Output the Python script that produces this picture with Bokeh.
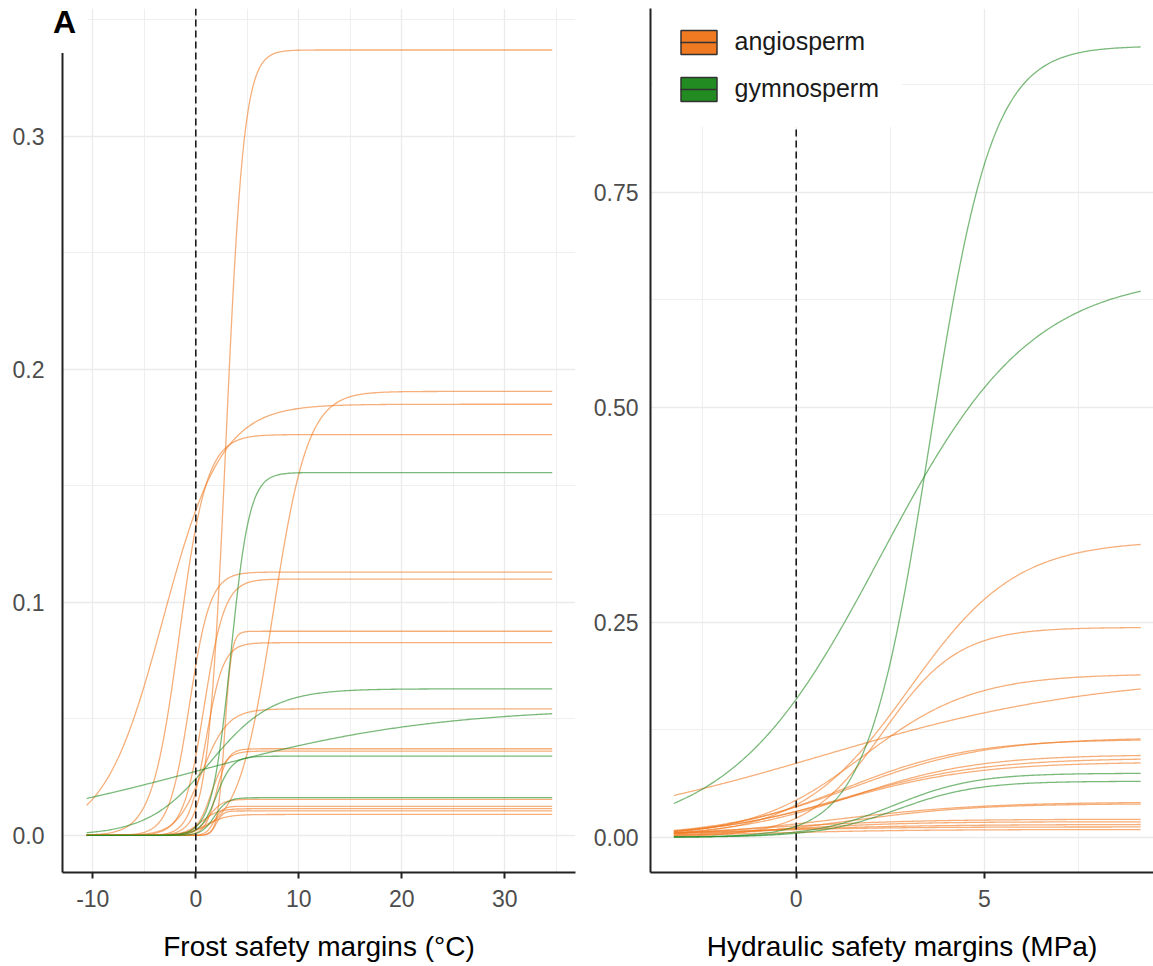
import numpy as np
from bokeh.plotting import figure
from bokeh.models import FixedTicker, Legend, LegendItem, Span, Div
from bokeh.layouts import row, column
from bokeh.embed import file_html
from bokeh.resources import INLINE

# ---------------- data (fitted logistic curves) ----------------
# Frost safety margins panel: plateau, midpoint (°C), slope, group
frost_plateau = [0.337, 0.1905, 0.185, 0.172, 0.113, 0.110, 0.0876, 0.0827, 0.0543,
                 0.0372, 0.0362, 0.0155, 0.0125, 0.0115, 0.0105, 0.0090,
                 0.1557, 0.0629, 0.055, 0.034, 0.0162]
frost_mid = [2.92, 7.5, -3.2, -1.6, -0.6, 0.8, 2.8, 1.0, 0.6,
             2.0, 1.5, 1.2, 1.8, 0.5, 2.0, 1.0,
             3.4, 1.4, 0.0, 2.0, 1.8]
frost_slope = [1.15, 0.59, 0.35, 0.75, 1.0, 1.0, 3.0, 1.2, 0.8,
               1.8, 1.4, 1.5, 2.5, 1.2, 3.0, 1.0,
               1.1, 0.33, 0.085, 1.3, 1.6]
frost_group = ["angiosperm"] * 16 + ["gymnosperm"] * 5
frost_span = [-10.6, 34.6]

# Hydraulic safety margins panel: plateau, midpoint (MPa), slope, group
hyd_plateau = [0.345, 0.244, 0.19, 0.19, 0.116, 0.114, 0.096, 0.092, 0.0875,
               0.041, 0.039, 0.021, 0.018, 0.015, 0.012, 0.009,
               0.92, 0.655, 0.0744, 0.0651]
hyd_mid = [3.0, 2.3, 1.8, 0.7, 1.5, 1.3, 1.5, 1.3, 1.2,
           1.0, 1.5, -1.0, -0.5, -1.5, -2.0, -1.0,
           3.55, 2.25, 2.6, 2.7]
hyd_slope = [0.7, 1.0, 0.68, 0.27, 0.55, 0.6, 0.6, 0.55, 0.55,
             0.5, 0.6, 0.5, 0.6, 0.4, 0.5, 0.5,
             1.2, 0.5, 0.93, 0.95]
hyd_group = ["angiosperm"] * 16 + ["gymnosperm"] * 4
hyd_span = [-3.25, 9.15]

groups = ["angiosperm", "gymnosperm"]
group_colors = {"angiosperm": "#F07A22", "gymnosperm": "#228B22"}

frost_ticks = [-10, 0, 10, 20, 30]
frost_xlabels = ["-10", "0", "10", "20", "30"]
frost_minor = [-5, 5, 15, 25, 35]
frost_yticks = [0.0, 0.1, 0.2, 0.3]
frost_ylabels = ["0.0", "0.1", "0.2", "0.3"]
frost_yminor = [0.05, 0.15, 0.25, 0.35]

hyd_ticks = [0, 5]
hyd_xlabels = ["0", "5"]
hyd_minor = [-2.5, 2.5, 7.5]
hyd_yticks = [0.0, 0.25, 0.5, 0.75]
hyd_ylabels = ["0.00", "0.25", "0.50", "0.75"]
hyd_yminor = [0.125, 0.375, 0.625, 0.875]

FONT = "Liberation Sans"


def curves(plateau, mid, slope, group, span):
    x = np.linspace(span[0], span[1], 300)
    xs, ys, cs = [], [], []
    for L, m, k, g in zip(plateau, mid, slope, group):
        xs.append(x)
        ys.append(L / (1.0 + np.exp(-k * (x - m))))
        cs.append(group_colors[g])
    return xs, ys, cs


def style(p, xt, xlab, xm, yt, ylab, ym, xlabel, ystandoff):
    p.outline_line_color = None
    p.background_fill_color = "white"
    p.border_fill_color = "white"
    p.xaxis.ticker = FixedTicker(ticks=xt, minor_ticks=xm)
    p.yaxis.ticker = FixedTicker(ticks=yt, minor_ticks=ym)
    p.xaxis.major_label_overrides = {v: s for v, s in zip(xt, xlab)}
    p.yaxis.major_label_overrides = {v: s for v, s in zip(yt, ylab)}
    for ax in (p.xaxis[0], p.yaxis[0]):
        ax.axis_line_color = "#222222"
        ax.axis_line_width = 2
        ax.minor_tick_line_color = None
        ax.minor_tick_out = 0
        ax.minor_tick_in = 0
        ax.major_label_text_font = FONT
        ax.major_label_text_font_size = "23px"
        ax.major_label_text_color = "#4D4D4D"
    p.xaxis.major_tick_line_color = "#222222"
    p.xaxis.major_tick_line_width = 2
    p.xaxis.major_tick_out = 6
    p.xaxis.major_tick_in = 0
    p.xaxis.major_label_standoff = 11
    p.yaxis.major_tick_line_color = None
    p.yaxis.major_tick_out = 0
    p.yaxis.major_tick_in = 0
    p.yaxis.major_label_standoff = ystandoff
    p.xaxis.axis_label = xlabel
    p.xaxis.axis_label_text_font = FONT
    p.xaxis.axis_label_text_font_size = "28px"
    p.xaxis.axis_label_text_font_style = "normal"
    p.xaxis.axis_label_text_color = "#000000"
    p.xaxis.axis_label_standoff = 21
    for g in (p.xgrid[0], p.ygrid[0]):
        g.grid_line_color = "#EBEBEB"
        g.grid_line_width = 1.3
        g.minor_grid_line_color = "#EFEFEF"
        g.minor_grid_line_width = 1.1


def zero_line(p):
    p.add_layout(Span(location=0, dimension="height", line_color="#1A1A1A",
                      line_width=1.6, line_dash="7 4", level="glyph"))


# ---------------- left panel ----------------
p1 = figure(width=590, height=966, x_range=(-12.94, 36.86), y_range=(-0.0159, 0.3548),
            output_backend="svg", toolbar_location=None,
            min_border_left=62, min_border_right=15, min_border_top=8, min_border_bottom=94)
style(p1, frost_ticks, frost_xlabels, frost_minor, frost_yticks, frost_ylabels,
      frost_yminor, "Frost safety margins (°C)", 18)
fx, fy, fc = curves(frost_plateau, frost_mid, frost_slope, frost_group, frost_span)
order = sorted(range(len(fx)), key=lambda i: frost_group[i])
p1.multi_line(xs=[fx[i] for i in order], ys=[fy[i] for i in order],
              line_color=[fc[i] for i in order], line_alpha=0.6, line_width=1.3)
zero_line(p1)

tag = Div(text="A", width=35, height=47, margin=(6, 0, -53, 53),
          styles={"font-family": FONT, "font-size": "32px", "font-weight": "bold",
                  "line-height": "32px", "background-color": "white", "color": "#000000",
                  "position": "relative", "z-index": "5"})

# ---------------- right panel ----------------
p2 = figure(width=563, height=966, x_range=(-3.87, 9.49), y_range=(-0.041, 0.9636),
            output_backend="svg", toolbar_location=None,
            min_border_left=60, min_border_right=0, min_border_top=8, min_border_bottom=94)
style(p2, hyd_ticks, hyd_xlabels, hyd_minor, hyd_yticks, hyd_ylabels, hyd_yminor,
      "Hydraulic safety margins (MPa)", 12)
hx, hy, hc = curves(hyd_plateau, hyd_mid, hyd_slope, hyd_group, hyd_span)
order = sorted(range(len(hx)), key=lambda i: hyd_group[i])
p2.multi_line(xs=[hx[i] for i in order], ys=[hy[i] for i in order],
              line_color=[hc[i] for i in order], line_alpha=0.6, line_width=1.3)
zero_line(p2)

items = []
for g in groups:
    box = p2.vbar(x=[np.nan], top=[np.nan], width=1, fill_color=group_colors[g],
                  line_color="#333333", line_width=1.5)
    med = p2.line(x=[np.nan], y=[np.nan], line_color="#333333", line_width=1.5,
                  line_dash="36 20", line_dash_offset=52)
    items.append(LegendItem(label=g, renderers=[box, med]))
legend = Legend(items=items, location=(2.5, 745.5), glyph_width=45, glyph_height=30,
                spacing=17, padding=22, margin=0, label_standoff=14,
                label_text_font=FONT, label_text_font_size="25px",
                label_text_color="#1A1A1A", background_fill_color="white",
                background_fill_alpha=1.0, border_line_color="white",
                border_line_width=1)
p2.add_layout(legend)

layout = row(column(tag, p1), p2)
open("out.html", "w").write(file_html(layout, INLINE))
